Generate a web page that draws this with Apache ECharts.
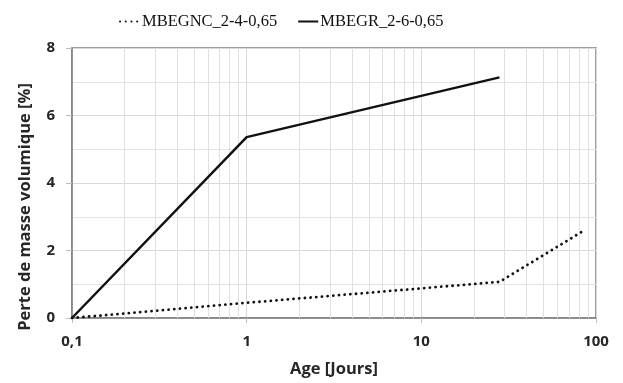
<!DOCTYPE html>
<html><head><meta charset="utf-8">
<script src="https://cdn.jsdelivr.net/npm/echarts@6/dist/echarts.min.js"></script>
<style>html,body{margin:0;padding:0;background:#fff}#c{width:623px;height:383px}</style>
</head><body><div id="c"></div>
<script>
const seriesNames = ['MBEGNC_2-4-0,65', 'MBEGR_2-6-0,65'];
const agesNC = [0.1, 1, 28, 84];
const valuesNC = [0, 0.45, 1.07, 2.57];
const agesR = [0.1, 1, 28];
const valuesR = [0, 5.36, 7.13];
const minorX = [0.2,0.3,0.4,0.5,0.6,0.7,0.8,0.9,2,3,4,5,6,7,8,9,20,30,40,50,60,70,80,90];

const chart = echarts.init(document.getElementById('c'));
const bold = {fontFamily: 'Open Sans', fontWeight: 'bold', fontSize: 15, color: '#262626'};
const nameStyle = {fontFamily: 'Open Sans', fontWeight: 'bold', fontSize: 16.5, color: '#262626'};
chart.setOption({
  animation: false,
  legend: {
    top: 8, left: 114, itemGap: 20, itemWidth: 20, itemHeight: 10,
    itemStyle: {opacity: 0},
    textStyle: {fontFamily: 'Liberation Serif', fontSize: 16.5, color: '#111', padding: [0, 0, 0, -3]},
    data: seriesNames
  },
  grid: {left: 72, right: 27, top: 48, bottom: 64, show: true, borderColor: '#7f7f7f', borderWidth: 1.5},
  xAxis: {
    type: 'log', logBase: 10, min: 0.1, max: 100,
    name: 'Age [Jours]', nameLocation: 'middle', nameGap: 43,
    nameTextStyle: nameStyle,
    axisLine: {lineStyle: {color: '#7f7f7f', width: 1.5}},
    axisTick: {show: true, length: 5, lineStyle: {color: '#bfbfbf'}},
    axisLabel: Object.assign({margin: 16, formatter: v => String(v).replace('.', ',')}, bold),
    splitLine: {show: true, lineStyle: {color: '#d9d9d9', width: 1}}
  },
  yAxis: {
    type: 'value', min: 0, max: 8, interval: 2,
    name: 'Perte de masse volumique [%]', nameLocation: 'middle', nameGap: 38,
    nameTextStyle: Object.assign({padding: [0, 48, 0, 0]}, nameStyle),
    axisLine: {show: true, lineStyle: {color: '#7f7f7f', width: 1.5}},
    axisTick: {show: true, length: 6, lineStyle: {color: '#bfbfbf'}},
    axisLabel: Object.assign({margin: 17}, bold),
    splitLine: {show: true, lineStyle: {color: '#d9d9d9', width: 1}},
    minorTick: {show: false, splitNumber: 2},
    minorSplitLine: {show: true, lineStyle: {color: '#e3e3e3', width: 1}}
  },
  series: [
    {
      name: seriesNames[0], type: 'line', symbol: 'none',
      data: agesNC.map((a, i) => [a, valuesNC[i]]),
      lineStyle: {color: '#111', width: 2.8, type: [0.1, 5.6], cap: 'round'},
      itemStyle: {color: '#111'},
      z: 3,
      markLine: {
        silent: true, symbol: 'none', label: {show: false}, animation: false,
        lineStyle: {color: '#e0e0e0', width: 1, type: 'solid'},
        data: minorX.map(v => ({xAxis: v})),
        z: 1
      }
    },
    {
      name: seriesNames[1], type: 'line', symbol: 'none',
      data: agesR.map((a, i) => [a, valuesR[i]]),
      lineStyle: {color: '#111', width: 2.5, type: 'solid'},
      itemStyle: {color: '#111'},
      z: 3
    }
  ]
});
</script></body></html>
